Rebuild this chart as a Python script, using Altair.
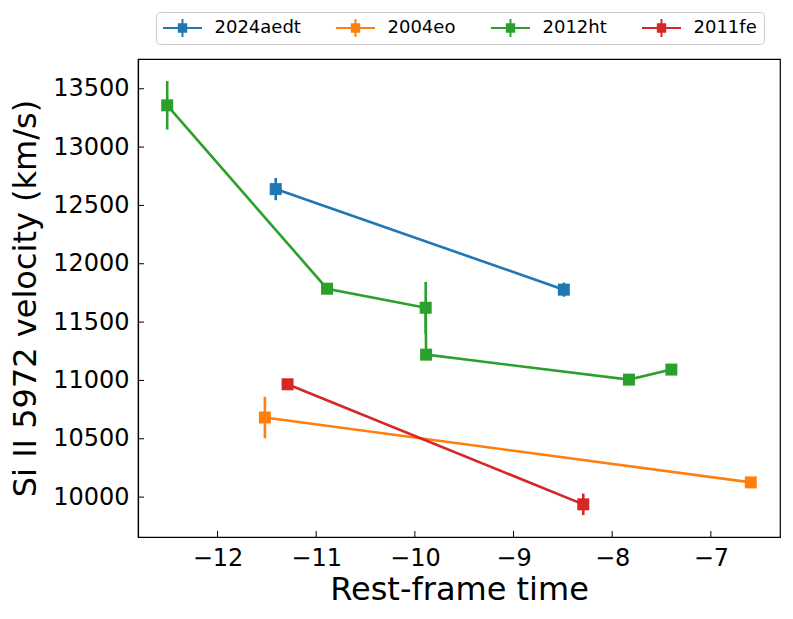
import altair as alt
import pandas as pd

# ---- data ----
series_names = ["2024aedt", "2004eo", "2012ht", "2011fe"]
series_colors = ["#1f77b4", "#ff7f0e", "#2ca02c", "#d62728"]

t_2024aedt = [-11.41, -8.49]
v_2024aedt = [12640, 11778]
e_2024aedt = [95, 60]

t_2004eo = [-11.52, -6.595]
v_2004eo = [10682, 10126]
e_2004eo = [178, 0]

t_2012ht = [-12.51, -10.89, -9.89, -9.886, -7.83, -7.40]
v_2012ht = [13358, 11786, 11623, 11221, 11007, 11093]
e_2012ht = [208, 0, 222, 0, 0, 0]

t_2011fe = [-11.29, -8.293]
v_2011fe = [10967, 9938]
e_2011fe = [0, 92]

x_ticks = [-12, -11, -10, -9, -8, -7]
y_ticks = [10000, 10500, 11000, 11500, 12000, 12500, 13000, 13500]
x_domain = [-12.806, -6.299]
y_domain = [9658, 13755]

rows = []
for name, ts, vs, es in [
    ("2024aedt", t_2024aedt, v_2024aedt, e_2024aedt),
    ("2004eo", t_2004eo, v_2004eo, e_2004eo),
    ("2012ht", t_2012ht, v_2012ht, e_2012ht),
    ("2011fe", t_2011fe, v_2011fe, e_2011fe),
]:
    for i, (t, v, e) in enumerate(zip(ts, vs, es)):
        rows.append({"sn": name, "t": t, "v": v, "err": e, "idx": i,
                     "lo": v - e, "hi": v + e})
df = pd.DataFrame(rows)

W, H = 642, 478
FONT = "DejaVu Sans"

# legend glyph: line + square marker + vertical error bar (unit = 9 px)
legend_path = ("M-2.17,-0.11H2.17V0.11H-2.17Z M-0.52,-0.52H0.52V0.52H-0.52Z "
               "M-0.11,-1H0.11V1H-0.11Z")

xs = alt.Scale(domain=x_domain, nice=False, zero=False)
ys = alt.Scale(domain=y_domain, nice=False, zero=False)
cs = alt.Scale(domain=series_names, range=series_colors)

leg = alt.Legend(
    title=None, orient="none", legendX=18, legendY=-47,
    direction="horizontal", columns=4, columnPadding=34,
    symbolType=legend_path, symbolSize=324, symbolStrokeWidth=0,
    symbolOpacity=1, symbolOffset=10.5,
    labelFontSize=18, labelFont=FONT, labelColor="black", labelOffset=23,
    padding=7, strokeColor="#cccccc", fillColor="white", cornerRadius=4)
color_enc = alt.Color("sn:N", scale=cs, legend=leg)

x_enc = alt.X("t:Q", scale=xs, axis=alt.Axis(
    title="Rest-frame time", values=x_ticks, ticks=False, grid=False,
    format="d",
    labelFontSize=24, titleFontSize=32, labelPadding=9, titlePadding=4,
    labelFont=FONT, titleFont=FONT, titleFontWeight="normal",
    labelColor="black", titleColor="black", domainColor="black",
    domainWidth=1.2,
    labelExpr="replace(datum.label, '-', '\u2212')"))
y_enc = alt.Y("v:Q", scale=ys, axis=alt.Axis(
    title="Si II 5972 velocity (km/s)", values=y_ticks, ticks=False, grid=False,
    format="d", labelFontSize=24, titleFontSize=32, labelPadding=9, titlePadding=10,
    labelFont=FONT, titleFont=FONT, titleFontWeight="normal",
    labelColor="black", titleColor="black", domainColor="black",
    domainWidth=1.2))

base = alt.Chart(df)

lines = base.mark_line(strokeWidth=2.6).encode(
    x=x_enc, y=y_enc, color=color_enc,
    order="idx:Q", detail="sn:N")

errs = base.transform_filter("datum.err > 0").mark_rule(strokeWidth=2.6).encode(
    x="t:Q", y="lo:Q", y2="hi:Q", color=color_enc)

points = base.mark_point(shape="square", filled=True, size=144, opacity=1).encode(
    x="t:Q", y="v:Q", color=color_enc)

xtick_df = pd.DataFrame({"t": x_ticks})
ytick_df = pd.DataFrame({"v": y_ticks})

xticks = alt.Chart(xtick_df).mark_rule(color="black", strokeWidth=1).encode(
    x=alt.X("t:Q", scale=xs), y=alt.value(H), y2=alt.value(H - 6))
yticks = alt.Chart(ytick_df).mark_rule(color="black", strokeWidth=1).encode(
    y=alt.Y("v:Q", scale=ys), x=alt.value(0), x2=alt.value(6))

chart = alt.layer(lines, errs, points, xticks, yticks).properties(
    width=W, height=H,
    autosize=alt.AutoSizeParams(type="none"),
    padding={"left": 130, "top": 51, "right": 5, "bottom": 74},
).configure(background="white").configure_view(stroke="black", strokeWidth=1.2)

chart.save("out.html", embed_options={"renderer": "svg", "actions": False})
